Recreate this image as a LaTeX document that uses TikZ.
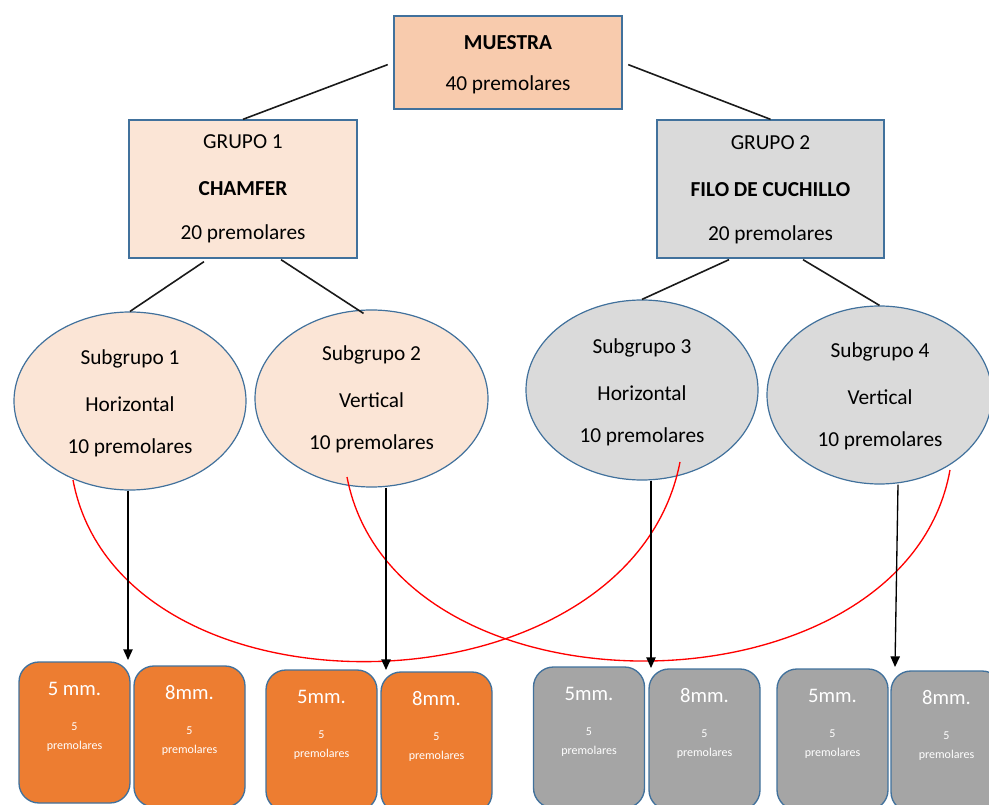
\documentclass[tikz,border=0pt]{standalone}
\usepackage{fontspec}
\setmainfont{Carlito}
\usetikzlibrary{arrows.meta,shapes.geometric,calc}
\definecolor{bord}{HTML}{41719C}
\definecolor{peachA}{HTML}{F8CBAD}
\definecolor{peachB}{HTML}{FBE5D6}
\definecolor{greyA}{HTML}{DADADA}
\definecolor{orangeA}{HTML}{ED7D31}
\definecolor{greyB}{HTML}{A5A5A5}
\definecolor{lineC}{HTML}{1A1A1A}
\tikzset{
  boxA/.style={draw=bord,line width=1pt,rectangle,inner sep=0pt},
  ell/.style={draw=bord,line width=0.9pt,ellipse,inner sep=0pt},
  txt/.style={inner sep=0pt,font=\fontsize{16}{18}\selectfont},
  bbox/.style={draw=bord,line width=1pt,rounded corners=15pt,minimum width=83.25pt,minimum height=105.75pt,inner sep=0pt},
  bigw/.style={text=white,font=\fontsize{15.5}{18}\selectfont,inner sep=0pt},
  smallw/.style={text=white,font=\fontsize{9}{11}\selectfont,inner sep=0pt},
  conn/.style={draw=lineC,line width=1.2pt},
  arr/.style={draw=black,line width=1pt,-{Triangle[length=8pt,width=7pt]}},
  redc/.style={draw=red,line width=1pt}
}
\newcommand\mybox[5]{%
  \node[bbox,fill=#4] (#1) at (#2,#3+70.5) {};
  \node[bigw] (#1t) at (#2,#3+27) {#5};
  \node[smallw] (#1n) at (#2,#3+65) {5};
  \node[smallw] (#1p) at (#2,#3+84) {premolares};}
\newcommand\threelines[6]{%
  \node[txt] (#1a) at (#2,#3) {#4};
  \node[txt] (#1b) at (#2,#3+45) {#5};
  \node[txt] (#1c) at (#2,#3+89) {#6};}
\begin{document}
\begin{tikzpicture}[x=0.75pt,y=-0.75pt]
\useasboundingbox (0,0) rectangle (989,805);
% top boxes
\node[boxA,fill=peachA,minimum width=171pt,minimum height=69.75pt] (m) at (508,62.5) {};
\node[txt] (ma) at (508,43) {\textbf{MUESTRA}};
\node[txt] (mb) at (508,85) {40 premolares};
\node[boxA,fill=peachB,minimum width=171pt,minimum height=103.5pt] (g1) at (243,189) {};
\node[txt] (g1a) at (243,142) {GRUPO 1};
\node[txt] (g1b) at (243,189) {\textbf{CHAMFER}};
\node[txt] (g1c) at (243,234) {20 premolares};
\node[boxA,fill=greyA,minimum width=170.25pt,minimum height=103.5pt] (g2) at (770.5,189) {};
\node[txt] (g2a) at (770.5,143) {GRUPO 2};
\node[txt] (g2b) at (770.5,190) {\textbf{FILO DE CUCHILLO}};
\node[txt] (g2c) at (770.5,235) {20 premolares};
% ellipses
\node[ell,fill=peachB,minimum width=174pt,minimum height=133.5pt] (s1) at (130,401) {};
\threelines{s1t}{130}{359}{Subgrupo 1}{Horizontal}{10 premolares}
\node[ell,fill=peachB,minimum width=174.75pt,minimum height=132.75pt] (s2) at (371.5,398.5) {};
\threelines{s2t}{371.5}{355}{Subgrupo 2}{Vertical}{10 premolares}
\node[ell,fill=greyA,minimum width=174pt,minimum height=135pt] (s3) at (642,390) {};
\threelines{s3t}{642}{348}{Subgrupo 3}{Horizontal}{10 premolares}
\node[ell,fill=greyA,minimum width=168.75pt,minimum height=133.5pt] (s4) at (879.5,395) {};
\threelines{s4t}{880}{352}{Subgrupo 4}{Vertical}{10 premolares}
% bottom boxes
\mybox{b1}{74.5}{662}{orangeA}{5 mm.}
\mybox{b2}{189.5}{666}{orangeA}{8mm.}
\mybox{b3}{321.5}{670}{orangeA}{5mm.}
\mybox{b4}{436.5}{672}{orangeA}{8mm.}
\mybox{b5}{589}{667}{greyB}{5mm.}
\mybox{b6}{704.5}{669}{greyB}{8mm.}
\mybox{b7}{832.5}{669}{greyB}{5mm.}
\mybox{b8}{946.5}{671}{greyB}{8mm.}
% connectors
\draw[conn,shorten <=4.5pt] (m.west) -- (g1.north);
\draw[conn,shorten <=4.5pt] (m.east) -- (g2.north);
\draw[conn] ($(g1.south)+(-39,3)$) -- (s1.north);
\draw[conn] ($(g1.south)+(38,1)$) -- ($(s2.north)+(-8,4)$);
\draw[conn] ($(g2.south)+(-41.5,1)$) -- (s3.north);
\draw[conn] ($(g2.south)+(32.5,1)$) -- (s4.north);
% red arcs
\coordinate (r1a) at (73,480);
\coordinate (r1b) at (680,462);
\coordinate (r2a) at (347,477);
\coordinate (r2b) at (950,470);
\draw[redc] (r1a) .. controls (120,730) and (630,720) .. (r1b);
\draw[redc] (r2a) .. controls (395,727) and (905,720) .. (r2b);
% arrows
\coordinate (a1) at (128,660);
\coordinate (a2) at (386,670);
\coordinate (a3) at (651,668);
\coordinate (a4) at (895,667);
\draw[arr] (a1 |- s1.south) -- (a1);
\draw[arr] (a2 |- s2.south) -- (a2);
\draw[arr] (a3 |- s3.south) -- (a3);
\draw[arr] ($(a4 |- s4.south)+(3,0)$) -- (a4);
\end{tikzpicture}
\end{document}
